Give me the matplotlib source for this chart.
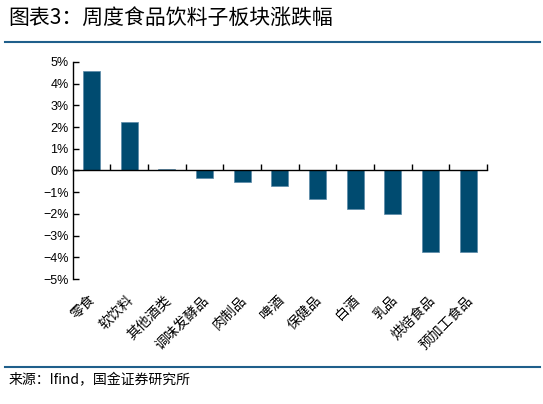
import matplotlib
matplotlib.use("Agg")
import matplotlib.pyplot as plt
from matplotlib.ticker import FixedLocator, FuncFormatter
import matplotlib.transforms as mtransforms

plt.rcParams['font.family'] = ['Liberation Sans', 'Noto Sans CJK SC', 'DejaVu Sans']

categories = ['零食', '软饮料', '其他酒类', '调味发酵品', '肉制品', '啤酒',
              '保健品', '白酒', '乳品', '烘焙食品', '预加工食品']
values = [4.57, 2.24, 0.09, -0.33, -0.53, -0.73, -1.30, -1.78, -2.00, -3.73, -3.73]
yticks = [5, 4, 3, 2, 1, 0, -1, -2, -3, -4, -5]

title = '图表3：周度食品饮料子板块涨跌幅'
source = '来源：Ifind，国金证券研究所'

bar_color = '#004B70'
line_color = '#1F5F8B'

fig = plt.figure(figsize=(5.43, 4.04), dpi=100)
ax = fig.add_axes([0.134, 0.309, 0.763, 0.538])

x = list(range(len(categories)))
ax.bar(x, values, width=0.45, color=bar_color, edgecolor='#5A8AA8', linewidth=0.5, zorder=2)

ax.set_xlim(-0.5, len(categories) - 0.5)
ax.set_ylim(-5, 5)

ax.spines['top'].set_visible(False)
ax.spines['right'].set_visible(False)
ax.spines['bottom'].set_position(('data', 0))
for s in ['left', 'bottom']:
    ax.spines[s].set_linewidth(1.0)
    ax.spines[s].set_color('black')

ax.yaxis.set_major_locator(FixedLocator(yticks))
ax.yaxis.set_major_formatter(FuncFormatter(lambda v, p: ('\u2212' if v < 0 else '') + f'{abs(int(round(v)))}%'))
ax.tick_params(axis='y', direction='in', length=4, width=1, labelsize=9, pad=3)

ax.xaxis.set_major_locator(FixedLocator([i + 0.5 for i in x]))
ax.tick_params(axis='x', direction='in', length=4, width=1, labelbottom=False)

trans = mtransforms.blended_transform_factory(ax.transData, ax.transAxes)
offset = mtransforms.ScaledTranslation(-2 / 72, -10 / 72, fig.dpi_scale_trans)
for i, c in zip(x, categories):
    ax.text(i, 0, c, transform=trans + offset, rotation=45, ha='right', va='top',
            rotation_mode='anchor', fontsize=10, family=['Noto Sans CJK SC', 'DejaVu Sans'])

fig.text(0.015, 0.955, title, fontsize=15, ha='left', va='center',
         family=['Noto Sans CJK SC', 'DejaVu Sans'])
fig.add_artist(plt.Line2D([0.01, 0.995], [0.895, 0.895], color=line_color, linewidth=1.5))
fig.add_artist(plt.Line2D([0.01, 0.995], [0.092, 0.092], color=line_color, linewidth=1.5))
fig.text(0.015, 0.058, source, fontsize=10, ha='left', va='center',
         family=['Noto Sans CJK SC', 'DejaVu Sans'])

fig.savefig('out.png', dpi=100)
